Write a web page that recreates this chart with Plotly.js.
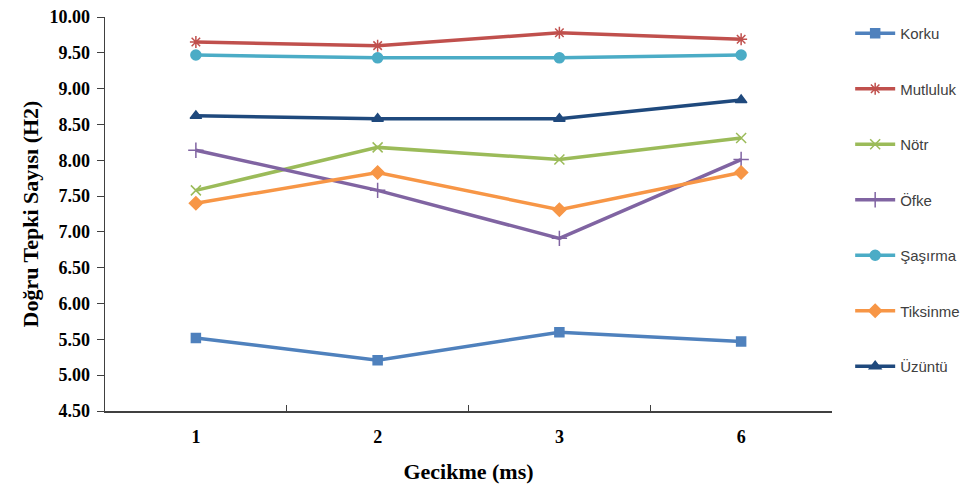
<!DOCTYPE html>
<html>
<head>
<meta charset="utf-8">
<script src="https://cdn.plot.ly/plotly-3.0.1.min.js"></script>
<style>html,body{margin:0;padding:0;background:#fff;}#chart{width:977px;height:488px;}</style>
</head>
<body>
<div id="chart"></div>
<script>
const categories = ["1", "2", "3", "6"];
const seriesNames = ["Korku", "Mutluluk", "Nötr", "Öfke", "Şaşırma", "Tiksinme", "Üzüntü"];
const korku    = [5.52, 5.21, 5.60, 5.47];
const mutluluk = [9.65, 9.60, 9.78, 9.69];
const notr     = [7.58, 8.18, 8.01, 8.31];
const ofke     = [8.14, 7.58, 6.91, 8.01];
const sasirma  = [9.47, 9.43, 9.43, 9.47];
const tiksinme = [7.40, 7.83, 7.31, 7.83];
const uzuntu   = [8.62, 8.58, 8.58, 8.84];
const yTicks = [4.5, 5, 5.5, 6, 6.5, 7, 7.5, 8, 8.5, 9, 9.5, 10];

const values = [korku, mutluluk, notr, ofke, sasirma, tiksinme, uzuntu];
const colors = ["#4F81BD", "#C0504D", "#9BBB59", "#8064A2", "#4BACC6", "#F79646", "#1F497D"];
const symbols = ["square", "asterisk-open", "x-thin-open", "cross-thin-open", "circle", "diamond", "triangle-up"];
const msizes = [9, 10, 10, 11, 10, 10, 10];
const serif = "Liberation Serif, Times New Roman, serif";

const traces = seriesNames.map((n, i) => ({
  type: "scatter", mode: "lines+markers", name: n,
  x: categories, y: values[i], legendgroup: "g" + i,
  line: {color: colors[i], width: 3.5},
  marker: {symbol: symbols[i], size: msizes[i], color: colors[i], line: {color: colors[i], width: 1.5}}
}));

const layout = {
  width: 977, height: 488,
  margin: {l: 105, r: 140, t: 17, b: 77},
  paper_bgcolor: "#fff", plot_bgcolor: "#fff",
  showlegend: true,
  legend: {x: 1.025, xanchor: "left", y: 1.0, yanchor: "top", tracegroupgap: 33,
           font: {family: "Liberation Sans, Arial, sans-serif", size: 15, color: "#404040"},
           itemwidth: 40, bgcolor: "rgba(0,0,0,0)"},
  xaxis: {type: "category", range: [-0.5, 3.5], showgrid: false, zeroline: false,
          showline: true, linecolor: "#404040", linewidth: 1.5,
          ticks: "inside", tickson: "boundaries", ticklen: 6, tickcolor: "#404040",
          ticktext: categories.map(c => "<b>" + c + "</b>"), tickvals: categories,
          ticklabelstandoff: 9,
          tickfont: {family: serif, size: 18, color: "#000"},
          title: {text: "<b>Gecikme (ms)</b>", standoff: 17,
                  font: {family: serif, size: 22, color: "#000"}}},
  yaxis: {range: [4.5, 10], tickvals: yTicks, ticktext: yTicks.map(v => "<b>" + v.toFixed(2) + "</b>"),
          showgrid: false, zeroline: false,
          showline: true, linecolor: "#404040", linewidth: 1.5,
          ticks: "outside", ticklen: 7, tickcolor: "#404040",
          ticklabelstandoff: 3,
          tickfont: {family: serif, size: 18, color: "#000"},
          title: {text: "<b>Doğru Tepki Sayısı (H2)</b>", standoff: 4,
                  font: {family: serif, size: 22, color: "#000"}}}
};

Plotly.newPlot("chart", traces, layout, {displayModeBar: false, staticPlot: true});
</script>
</body>
</html>
